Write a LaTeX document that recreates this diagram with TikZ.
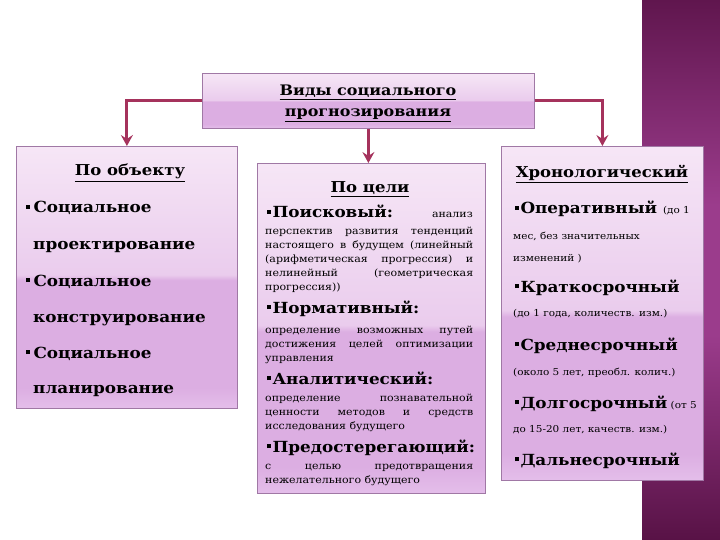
\documentclass[tikz,border=0pt]{standalone}
\usepackage{fontspec}
\setmainfont{DejaVu Serif}[FakeStretch=1.1]
\usetikzlibrary{arrows.meta}
\definecolor{arr}{RGB}{165,50,92}
\definecolor{bxborder}{RGB}{160,120,165}
\definecolor{bxA}{RGB}{246,230,246}
\definecolor{bxB}{RGB}{234,204,237}
\definecolor{bxC}{RGB}{220,174,226}
\definecolor{bxD}{RGB}{228,190,234}
\definecolor{stD}{RGB}{88,18,70}
\definecolor{stL}{RGB}{155,60,140}
\definecolor{stT}{RGB}{96,22,78}
\pgfdeclareverticalshading{boxshade}{100bp}{color(0bp)=(bxD); color(25bp)=(bxD); color(29bp)=(bxC); color(49.5bp)=(bxC); color(50.5bp)=(bxB); color(75bp)=(bxA); color(100bp)=(bxA)}
\pgfdeclareverticalshading{stripshade}{100bp}{color(0bp)=(stD); color(25bp)=(stD); color(44bp)=(stL); color(56bp)=(stL); color(75bp)=(stT); color(100bp)=(stT)}
\newcommand{\bul}[1][1.5pt]{\rule[4pt]{3.8pt}{3.8pt}\hspace{#1}}
\newcommand{\jline}[1]{\makebox[208pt][s]{#1}}
\tikzset{
  box/.style={draw=bxborder, line width=0.8pt, shading=boxshade, inner sep=0pt, anchor=north west},
  conn/.style={draw=arr, line width=3pt, -{Stealth[length=11pt,width=12pt,inset=4pt]}},
  big/.style={anchor=base west, inner sep=0pt, font=\bfseries\fontsize{15.3}{18}\selectfont},
  small/.style={anchor=base west, inner sep=0pt, font=\fontsize{9.5}{11}\selectfont},
  msmall/.style={anchor=base west, inner sep=0pt, font=\fontsize{10}{12}\selectfont},
  head/.style={anchor=base, inner sep=0pt, font=\bfseries\fontsize{15}{18}\selectfont},
  toptext/.style={anchor=base, inner sep=0pt, font=\bfseries\fontsize{14.5}{16}\selectfont},
}
\begin{document}
\begin{tikzpicture}[x=1pt,y=-1pt]
\useasboundingbox (0,0) rectangle (720,540);
\fill[white] (0,0) rectangle (720,540);
\shade[shading=stripshade] (642,0) rectangle (720,540);
% boxes
\node[box, minimum width=332pt, minimum height=55pt] (top) at (202,73) {};
\node[box, minimum width=221pt, minimum height=262pt] (obj) at (16,146) {};
\node[box, minimum width=228pt, minimum height=330pt] (goal) at (257,163) {};
\node[box, minimum width=202pt, minimum height=334pt] (chr) at (501,146) {};
% connectors
\draw[conn] (top.west) -| (obj.north);
\draw[conn] (top.east) -| (chr.north);
\draw[conn] (top.south) -- (top.south |- goal.north);
% top text
\node[toptext] (t1) at (368,96) {\underline{Виды социального}};
\node[toptext] (t2) at (368,117) {\underline{прогнозирования}};
% left box
\node[head] (objh) at (130,176) {\underline{По объекту}};
\node[big] (o1) at (26,213) {\bul[3.5pt]Социальное};
\node[big] (o2) at (33,249) {проектирование};
\node[big] (o3) at (26,286) {\bul[3.5pt]Социальное};
\node[big] (o4) at (33,322) {конструирование};
\node[big] (o5) at (26,358) {\bul[3.5pt]Социальное};
\node[big] (o6) at (33,393) {планирование};
% middle box
\node[head] (goalh) at (370,193) {\underline{По цели}};
\node[big] (g1) at (267,218) {\bul Поисковый:};
\node[msmall, anchor=base east] (g1b) at (473,218) {анализ};
\node[msmall] (g2) at (265,234.5) {\jline{перспектив развития тенденций}};
\node[msmall] (g3) at (265,248.5) {\jline{настоящего в будущем (линейный}};
\node[msmall] (g4) at (265,262.5) {\jline{(арифметическая прогрессия) и}};
\node[msmall] (g5) at (265,276.5) {\jline{нелинейный (геометрическая}};
\node[msmall] (g6) at (265,290.5) {прогрессия))};
\node[big] (g7) at (267,313) {\bul Нормативный:};
\node[msmall] (g8) at (265,333.5) {\jline{определение возможных путей}};
\node[msmall] (g9) at (265,347.5) {\jline{достижения целей оптимизации}};
\node[msmall] (g10) at (265,361.5) {управления};
\node[big] (g11) at (267,384) {\bul Аналитический:};
\node[msmall] (g12) at (265,401.5) {\jline{определение познавательной}};
\node[msmall] (g13) at (265,415.5) {\jline{ценности методов и средств}};
\node[msmall] (g14) at (265,429.5) {исследования будущего};
\node[big] (g15) at (267,452) {\bul Предостерегающий:};
\node[msmall] (g16) at (265,469.5) {\jline{с целью предотвращения}};
\node[msmall] (g17) at (265,483.5) {нежелательного будущего};
% right box
\node[head] (chrh) at (602,178) {\underline{Хронологический}};
\node[big] (c1) at (515,214) {\bul Оперативный};
\node[small, anchor=base east] (c1b) at (690,214) {(до 1};
\node[small] (c2) at (513,239.5) {мес, без значительных};
\node[small] (c3) at (513,261.5) {изменений )};
\node[big] (c4) at (515,292) {\bul Краткосрочный};
\node[small] (c5) at (513,316.5) {(до 1 года, количеств. изм.)};
\node[big] (c6) at (515,350) {\bul Среднесрочный};
\node[small] (c7) at (513,375.5) {(около 5 лет, преобл. колич.)};
\node[big] (c8) at (515,408) {\bul Долгосрочный};
\node[small, anchor=base east] (c9) at (697,408) {(от 5};
\node[small] (c10) at (513,432.5) {до 15-20 лет, качеств. изм.)};
\node[big] (c11) at (515,465) {\bul Дальнесрочный};
\end{tikzpicture}
\end{document}
